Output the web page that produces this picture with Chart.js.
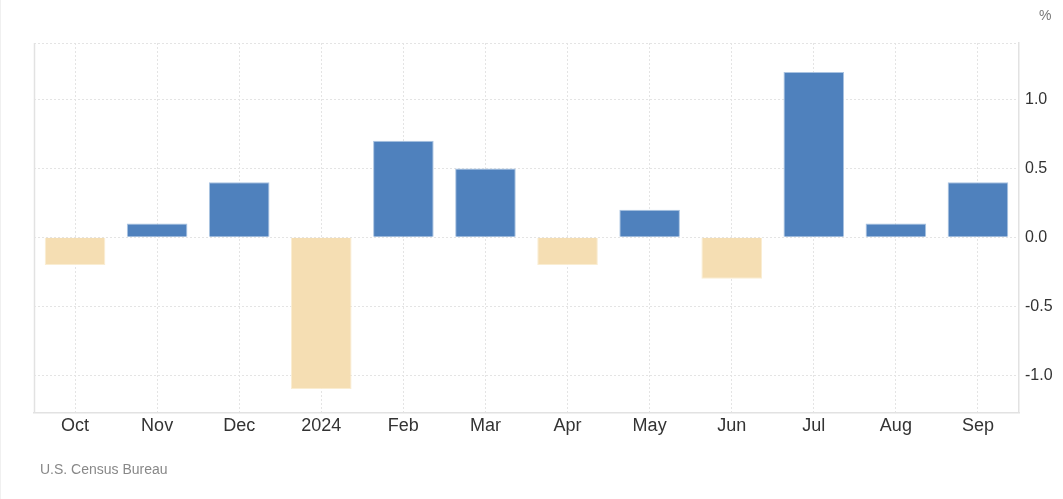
<!DOCTYPE html>
<html>
<head>
<meta charset="utf-8">
<script src="https://cdn.jsdelivr.net/npm/chart.js@4"></script>
<style>
  body { margin: 0; background: #fff; font-family: "Liberation Sans", Arial, sans-serif; }
  #wrap { position: relative; width: 1063px; height: 499px; border-left: 1px solid #f0f0f0; box-sizing: border-box; }
  #chart { position: absolute; left: 0; top: 0; }
  #unit { position: absolute; left: 1038px; top: 7px; font-size: 14px; color: #777; }
  #source { position: absolute; left: 39px; top: 461px; font-size: 14px; color: #888; }
</style>
</head>
<body>
<div id="wrap">
  <canvas id="chart" width="1062" height="499"></canvas>
  <div id="unit">%</div>
  <div id="source">U.S. Census Bureau</div>
</div>
<script>
const labels = ['Oct', 'Nov', 'Dec', '2024', 'Feb', 'Mar', 'Apr', 'May', 'Jun', 'Jul', 'Aug', 'Sep'];
const values = [-0.2, 0.1, 0.4, -1.1, 0.7, 0.5, -0.2, 0.2, -0.3, 1.2, 0.1, 0.4];
const yTicks = [-1.0, -0.5, 0.0, 0.5, 1.0];
const yMin = -1.27;
const yMax = 1.41;

const blue = '#4f81bd';
const beige = '#f5deb3';

// left edge of the plot box
const leftBorder = {
    id: 'leftBorder',
    afterDraw(chart) {
        const a = chart.chartArea;
        const ctx = chart.ctx;
        ctx.save();
        ctx.strokeStyle = '#e2e2e2';
        ctx.lineWidth = 1.5;
        ctx.beginPath();
        ctx.moveTo(a.left + 0.5, a.top);
        ctx.lineTo(a.left + 0.5, a.bottom);
        ctx.stroke();
        ctx.restore();
    }
};

new Chart(document.getElementById('chart').getContext('2d'), {
    type: 'bar',
    data: {
        labels: labels,
        datasets: [{
            data: values,
            backgroundColor: values.map(v => v < 0 ? beige : blue),
            borderColor: values.map(v => v < 0 ? 'rgba(250,235,205,0.9)' : 'rgba(160,188,222,0.9)'),
            borderWidth: 1,
            barPercentage: 0.82,
            categoryPercentage: 0.9
        }]
    },
    options: {
        responsive: false,
        animation: false,
        layout: { padding: { left: 33, top: 43, right: 0, bottom: 59 } },
        plugins: {
            legend: { display: false },
            tooltip: { enabled: false }
        },
        scales: {
            x: {
                grid: {
                    offset: false,
                    color: '#e4e4e4',
                    drawTicks: false
                },
                border: { display: true, color: '#e2e2e2', width: 1.5, dash: [2, 2] },
                ticks: {
                    color: '#333',
                    padding: 3,
                    font: { family: 'Liberation Sans', size: 18 }
                }
            },
            y: {
                position: 'right',
                min: yMin,
                max: yMax,
                afterBuildTicks(axis) {
                    axis.ticks = yTicks.concat([yMax]).map(v => ({ value: v }));
                },
                afterFit(axis) { axis.width = 44; },
                grid: {
                    color: '#e4e4e4',
                    drawTicks: false
                },
                border: { display: true, color: '#e2e2e2', width: 1.5, dash: [2, 2] },
                ticks: {
                    color: '#333',
                    padding: 6,
                    font: { family: 'Liberation Sans', size: 16 },
                    callback: v => v === yMax ? '' : v.toFixed(1)
                }
            }
        }
    },
    plugins: [leftBorder]
});
</script>
</body>
</html>
